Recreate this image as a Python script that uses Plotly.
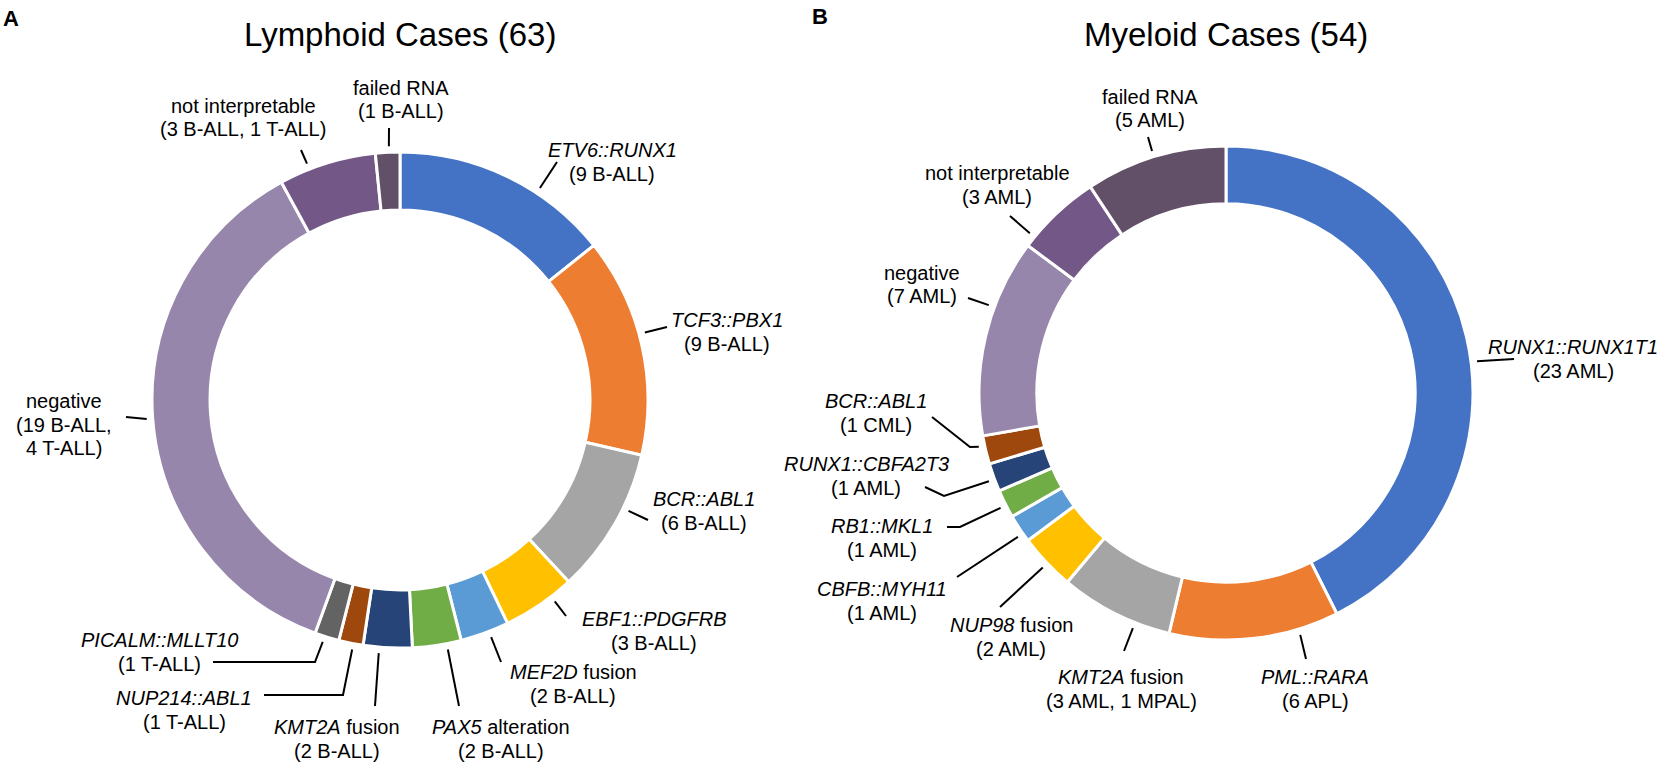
import math
import plotly.graph_objects as go

# ---------------- data ----------------
lymphoid_categories = ["ETV6::RUNX1", "TCF3::PBX1", "BCR::ABL1", "EBF1::PDGFRB",
                       "MEF2D fusion", "PAX5 alteration", "KMT2A fusion",
                       "NUP214::ABL1", "PICALM::MLLT10", "negative",
                       "not interpretable", "failed RNA"]
lymphoid_counts = [9, 9, 6, 3, 2, 2, 2, 1, 1, 23, 4, 1]
lymphoid_subtypes = [["(9 B-ALL)"], ["(9 B-ALL)"], ["(6 B-ALL)"], ["(3 B-ALL)"],
                     ["(2 B-ALL)"], ["(2 B-ALL)"], ["(2 B-ALL)"], ["(1 T-ALL)"],
                     ["(1 T-ALL)"], ["(19 B-ALL,", "4 T-ALL)"],
                     ["(3 B-ALL, 1 T-ALL)"], ["(1 B-ALL)"]]

myeloid_categories = ["RUNX1::RUNX1T1", "PML::RARA", "KMT2A fusion", "NUP98 fusion",
                      "CBFB::MYH11", "RB1::MKL1", "RUNX1::CBFA2T3", "BCR::ABL1",
                      "negative", "not interpretable", "failed RNA"]
myeloid_counts = [23, 6, 4, 2, 1, 1, 1, 1, 7, 3, 5]
myeloid_subtypes = [["(23 AML)"], ["(6 APL)"], ["(3 AML, 1 MPAL)"], ["(2 AML)"],
                    ["(1 AML)"], ["(1 AML)"], ["(1 AML)"], ["(1 CML)"],
                    ["(7 AML)"], ["(3 AML)"], ["(5 AML)"]]

titles = ["Lymphoid Cases (63)", "Myeloid Cases (54)"]
panel_letters = ["A", "B"]

# ---------------- styles ----------------
BLUE, ORANGE, GRAY, GOLD = "#4472C4", "#ED7D31", "#A5A5A5", "#FFC000"
LBLUE, GREEN, DBLUE, BROWN = "#5B9BD5", "#70AD47", "#264478", "#9E480E"
DGRAY, LAV, PURP, DPURP = "#636363", "#9786AB", "#735887", "#625068"
lymphoid_colors = [BLUE, ORANGE, GRAY, GOLD, LBLUE, GREEN, DBLUE, BROWN, DGRAY,
                   LAV, PURP, DPURP]
myeloid_colors = [BLUE, ORANGE, GRAY, GOLD, LBLUE, GREEN, DBLUE, BROWN, LAV, PURP, DPURP]

W, H = 1664, 768
FONT = "Liberation Sans, Arial, sans-serif"
LABEL_SIZE = 20
LINE_GAP = 23.5

# layout of each donut (pixels): centre x, centre y, outer radius
donuts = [dict(cx=400, cy=400, r=248), dict(cx=1226, cy=393, r=247)]
HOLE = 0.766

# label layout: text centre (x, y of first line), leader start position as
# fraction inside the slice, and extra leader waypoints (pixels)
lymphoid_label_layout = [
    dict(x=612, y=150, frac=0.65, pts=[(557, 162)]),
    dict(x=727, y=320, frac=0.45, pts=[(667, 327)]),
    dict(x=704, y=499, frac=0.38, pts=[(648, 520)]),
    dict(x=654, y=619, frac=0.31, pts=[(566, 616)]),
    dict(x=573, y=672, frac=0.41, pts=[(501, 662)]),
    dict(x=501, y=727, frac=0.30, pts=[(459, 706)]),
    dict(x=337, y=727, frac=0.67, pts=[(375, 706)]),
    dict(x=184, y=698, frac=0.40, pts=[(343, 695), (264, 695)]),
    dict(x=159, y=640, frac=0.60, pts=[(315, 662), (213, 662)]),
    dict(x=64, y=401, frac=0.50, pts=[(126, 417)]),
    dict(x=243, y=106, frac=0.31, pts=[(301, 150)]),
    dict(x=401, y=88, frac=0.56, pts=[(389, 128)]),
]
myeloid_label_layout = [
    dict(x=1573, y=347, frac=0.54, pts=[(1514, 359)]),
    dict(x=1315, y=677, frac=0.24, pts=[(1306, 659)]),
    dict(x=1121, y=677, frac=0.31, pts=[(1124, 651)]),
    dict(x=1011, y=625, frac=0.48, pts=[(1000, 607)]),
    dict(x=882, y=589, frac=0.30, pts=[(957, 577)]),
    dict(x=882, y=526, frac=0.45, pts=[(960, 527), (947, 527)]),
    dict(x=866, y=464, frac=0.44, pts=[(944, 496), (925, 487)]),
    dict(x=876, y=401, frac=0.66, pts=[(970, 447), (932, 417)]),
    dict(x=922, y=273, frac=0.65, pts=[(968, 298)]),
    dict(x=997, y=173, frac=0.125, pts=[(1010, 216)]),
    dict(x=1150, y=97, frac=0.49, pts=[(1148, 137)]),
]


def px(x, y):
    return x / W, 1 - y / H


def styled(name):
    if "::" in name:
        return "<i>" + name + "</i>"
    first, _, rest = name.partition(" ")
    if rest in ("fusion", "alteration"):
        return "<i>" + first + "</i> " + rest
    return name


fig = go.Figure()
annotations = []
shapes = []

datasets = [
    (lymphoid_categories, lymphoid_counts, lymphoid_subtypes, lymphoid_colors, lymphoid_label_layout),
    (myeloid_categories, myeloid_counts, myeloid_subtypes, myeloid_colors, myeloid_label_layout),
]

for k, (cats, counts, subs, colors, lay) in enumerate(datasets):
    d = donuts[k]
    x0, y1 = px(d["cx"] - d["r"], d["cy"] - d["r"])
    x1, y0 = px(d["cx"] + d["r"], d["cy"] + d["r"])
    fig.add_trace(go.Pie(
        labels=cats, values=counts, sort=False, direction="clockwise", rotation=0,
        hole=HOLE, textinfo="none", hoverinfo="label+value", showlegend=False,
        marker=dict(colors=colors, line=dict(color="white", width=3)),
        domain=dict(x=[x0, x1], y=[y0, y1]),
    ))
    total = sum(counts)
    cum = 0
    for i, c in enumerate(counts):
        L = lay[i]
        ang = (cum + c * L["frac"]) / total * 2 * math.pi
        cum += c
        rs = d["r"] + 6
        sx = d["cx"] + rs * math.sin(ang)
        sy = d["cy"] - rs * math.cos(ang)
        pts = [(sx, sy)] + L["pts"]
        path = ""
        for j, (a, b) in enumerate(pts):
            qx, qy = px(a, b)
            path += ("M" if j == 0 else " L") + f" {qx:.5f} {qy:.5f}"
        shapes.append(dict(type="path", xref="paper", yref="paper", path=path,
                           line=dict(color="black", width=2)))
        lines = [styled(cats[i])] + subs[i]
        for j, t in enumerate(lines):
            ax, ay = px(L["x"], L["y"] + j * LINE_GAP)
            annotations.append(dict(text=t, x=ax, y=ay, xref="paper", yref="paper",
                                    xanchor="center", yanchor="middle", showarrow=False,
                                    font=dict(family=FONT, size=LABEL_SIZE, color="black")))
    tx, ty = px(d["cx"], 35)
    annotations.append(dict(text=titles[k], x=tx, y=ty, xref="paper", yref="paper",
                            xanchor="center", yanchor="middle", showarrow=False,
                            font=dict(family=FONT, size=33, color="black")))

for k, (lx, ly) in enumerate([(11, 18), (820, 16)]):
    ax, ay = px(lx, ly)
    annotations.append(dict(text="<b>" + panel_letters[k] + "</b>", x=ax, y=ay,
                            xref="paper", yref="paper", xanchor="center", yanchor="middle",
                            showarrow=False, font=dict(family=FONT, size=22, color="black")))

fig.update_layout(width=W, height=H, autosize=False, margin=dict(l=0, r=0, t=0, b=0),
                  paper_bgcolor="white", plot_bgcolor="white",
                  annotations=annotations, shapes=shapes)

fig.write_html("out.html", config={"displayModeBar": False},
               post_script="document.body.style.margin='0';")
